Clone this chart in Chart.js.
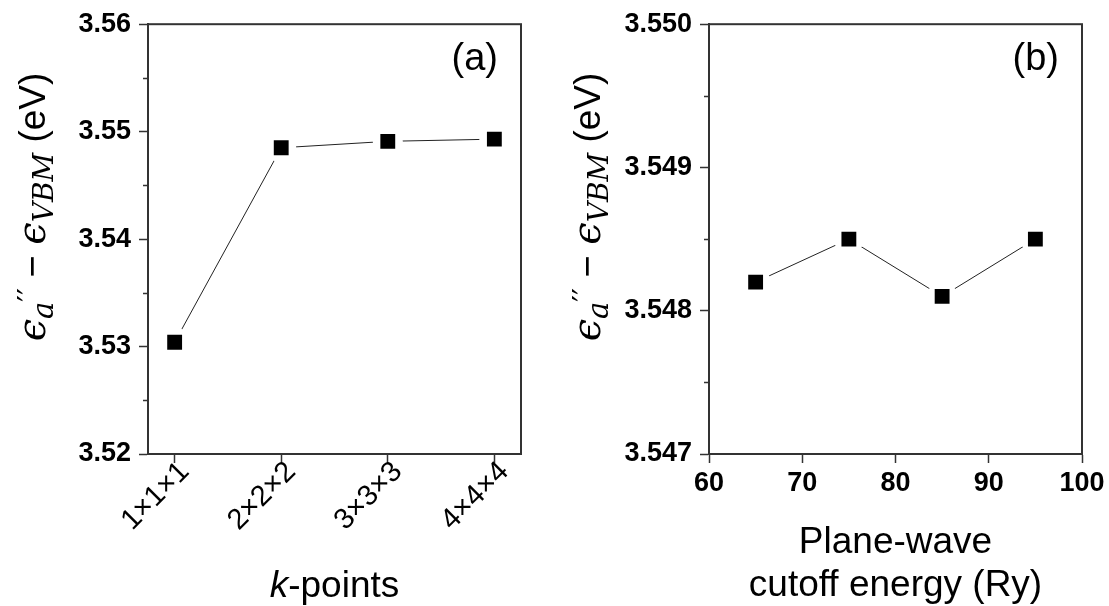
<!DOCTYPE html>
<html>
<head>
<meta charset="utf-8">
<script src="https://cdn.jsdelivr.net/npm/chart.js@4.4.1/dist/chart.umd.min.js"></script>
<style>
  html, body { margin: 0; padding: 0; background: #fff; }
  #wrap { position: relative; width: 1109px; height: 606px; }
  .panel { position: absolute; top: 0; height: 606px; }
  #pa { left: 0; width: 555px; }
  #pb { left: 555px; width: 554px; }
</style>
</head>
<body>
<div id="wrap">
  <div class="panel" id="pa"><canvas id="ca"></canvas></div>
  <div class="panel" id="pb"><canvas id="cb"></canvas></div>
</div>
<script>
// (a) k-point convergence
const kLabels  = ['1×1×1', '2×2×2', '3×3×3', '4×4×4'];
const kGap     = [3.5304, 3.5485, 3.5491, 3.5493];
const kXTicks  = [1, 2, 3, 4];
const kYTicks  = [3.52, 3.53, 3.54, 3.55, 3.56];
const kYMinor  = [3.525, 3.535, 3.545, 3.555];

// (b) plane-wave cutoff convergence
const cutoff    = [65, 75, 85, 95];
const cutGap    = [3.5482, 3.5485, 3.5481, 3.5485];
const cutXTicks = [60, 70, 80, 90, 100];
const cutYTicks = [3.547, 3.548, 3.549, 3.550];
const cutYMinor = [3.5475, 3.5485, 3.5495];

const AX = '#333';
const SANS = '"Liberation Sans", Arial, sans-serif';
const MATH = '"DejaVu Serif", serif';

// y-axis title with sub/superscripts, drawn rotated
function drawYTitle(ctx, bx, cy) {
  const parts = [
    { t: 'ϵ',    f: 'italic 40px ' + MATH, dy: 0 },
    { t: 'a',    f: 'italic 29px ' + MATH, dy: 8 },
    { t: '′′',   f: '30px "DejaVu Sans"', dy: -6 },
    { t: ' − ',  f: '38px ' + SANS, dy: 0 },
    { t: 'ϵ',    f: 'italic 40px ' + MATH, dy: 0 },
    { t: 'VBM',  f: 'italic 28px ' + MATH, dy: 8 },
    { t: ' (eV)', f: '37px ' + SANS, dy: 0 },
  ];
  let total = 0;
  for (const p of parts) { ctx.font = p.f; p.w = ctx.measureText(p.t).width; total += p.w; }
  ctx.save();
  ctx.translate(bx, cy);
  ctx.rotate(-Math.PI / 2);
  ctx.fillStyle = '#000';
  ctx.textBaseline = 'alphabetic';
  ctx.textAlign = 'left';
  let x = -total / 2;
  for (const p of parts) { ctx.font = p.f; ctx.fillText(p.t, x, p.dy); x += p.w; }
  ctx.restore();
}

const decorations = {
  id: 'decorations',
  afterDraw(chart, args, o) {
    const { ctx, chartArea: a } = chart;
    const ys = chart.scales.y;
    ctx.save();
    // frame
    ctx.strokeStyle = AX;
    ctx.lineWidth = 2;
    ctx.strokeRect(a.left, a.top, a.right - a.left, a.bottom - a.top);
    // minor ticks
    ctx.lineWidth = 1.5;
    ctx.beginPath();
    for (const v of o.minor) {
      const y = Math.round(ys.getPixelForValue(v)) + 0.5;
      ctx.moveTo(a.left - 5, y);
      ctx.lineTo(a.left, y);
    }
    ctx.stroke();
    // panel label
    ctx.fillStyle = '#000';
    ctx.font = '38px ' + SANS;
    ctx.textAlign = 'right';
    ctx.textBaseline = 'alphabetic';
    ctx.fillText(o.tag, a.right - 23, 70);
    // x title
    ctx.textAlign = 'left';
    const cx = (a.left + a.right) / 2;
    if (o.kTitle) {
      ctx.font = 'italic 37px ' + SANS;
      const wk = ctx.measureText('k').width;
      ctx.font = '37px ' + SANS;
      const wr = ctx.measureText('-points').width;
      const x0 = cx - (wk + wr) / 2;
      ctx.font = 'italic 37px ' + SANS;
      ctx.fillText('k', x0, 597);
      ctx.font = '37px ' + SANS;
      ctx.fillText('-points', x0 + wk, 597);
    } else {
      ctx.font = '37px ' + SANS;
      ctx.textAlign = 'center';
      ctx.fillText('Plane-wave', cx, 553);
      ctx.fillText('cutoff energy (Ry)', cx, 596);
    }
    ctx.restore();
    drawYTitle(ctx, 45, 207);
  }
};

function series(xs, ys) {
  const pts = ys.map((y, i) => ({ x: xs[i], y }));
  return [
    { data: pts, showLine: true, borderColor: '#222', borderWidth: 1, pointRadius: 0, order: 3 },
    { data: pts, showLine: false, pointStyle: 'circle', pointRadius: 15,
      pointBackgroundColor: '#fff', pointBorderWidth: 0, order: 2 },
    { data: pts, showLine: false, pointStyle: 'rect', pointRadius: 10.5,
      pointBackgroundColor: '#000', pointBorderColor: '#000', pointBorderWidth: 0, order: 1 },
  ];
}

function makePanel(id, cfg) {
  return new Chart(document.getElementById(id), {
    type: 'line',
    data: { datasets: series(cfg.xs, cfg.ys) },
    options: {
      responsive: true,
      maintainAspectRatio: false,
      animation: false,
      events: [],
      layout: { padding: { left: 0, right: cfg.padRight, top: 24, bottom: 0 } },
      plugins: {
        legend: { display: false },
        tooltip: { enabled: false },
        decorations: { minor: cfg.minor, tag: cfg.tag, kTitle: cfg.kTitle },
      },
      scales: {
        x: {
          type: 'linear',
          min: cfg.xMin, max: cfg.xMax,
          afterBuildTicks: s => { s.ticks = cfg.xTicks.map(v => ({ value: v })); },
          afterFit: s => { s.height = 152; },
          grid: { drawOnChartArea: false, tickLength: 9, tickColor: AX, tickWidth: 1.5 },
          border: { color: AX, width: 2 },
          ticks: cfg.xTickOpts,
        },
        y: {
          min: cfg.yMin, max: cfg.yMax,
          afterBuildTicks: s => { s.ticks = cfg.yTicks.map(v => ({ value: v })); },
          afterFit: s => { s.width = cfg.yWidth; },
          grid: { drawOnChartArea: false, tickLength: 9, tickColor: AX, tickWidth: 1.5 },
          border: { color: AX, width: 2 },
          ticks: {
            color: '#000', padding: 8,
            font: { family: SANS, size: 27, weight: 'bold' },
            callback: v => v.toFixed(cfg.yDec),
          },
        },
      },
    },
    plugins: [decorations],
  });
}

makePanel('ca', {
  xs: kXTicks, ys: kGap, xMin: 0.75, xMax: 4.25, xTicks: kXTicks,
  yMin: 3.52, yMax: 3.56, yTicks: kYTicks, minor: kYMinor, yDec: 2,
  yWidth: 148, padRight: 34, tag: '(a)', kTitle: true,
  xTickOpts: {
    color: '#000', padding: -8, labelOffset: 10, minRotation: 45, maxRotation: 45,
    font: { family: SANS, size: 29 },
    callback: v => kLabels[v - 1],
  },
});

makePanel('cb', {
  xs: cutoff, ys: cutGap, xMin: 60, xMax: 100, xTicks: cutXTicks,
  yMin: 3.547, yMax: 3.550, yTicks: cutYTicks, minor: cutYMinor, yDec: 3,
  yWidth: 154, padRight: 27, tag: '(b)', kTitle: false,
  xTickOpts: {
    color: '#000', padding: 4,
    font: { family: SANS, size: 27, weight: 'bold' },
    callback: v => String(v),
  },
});
</script>
</body>
</html>
